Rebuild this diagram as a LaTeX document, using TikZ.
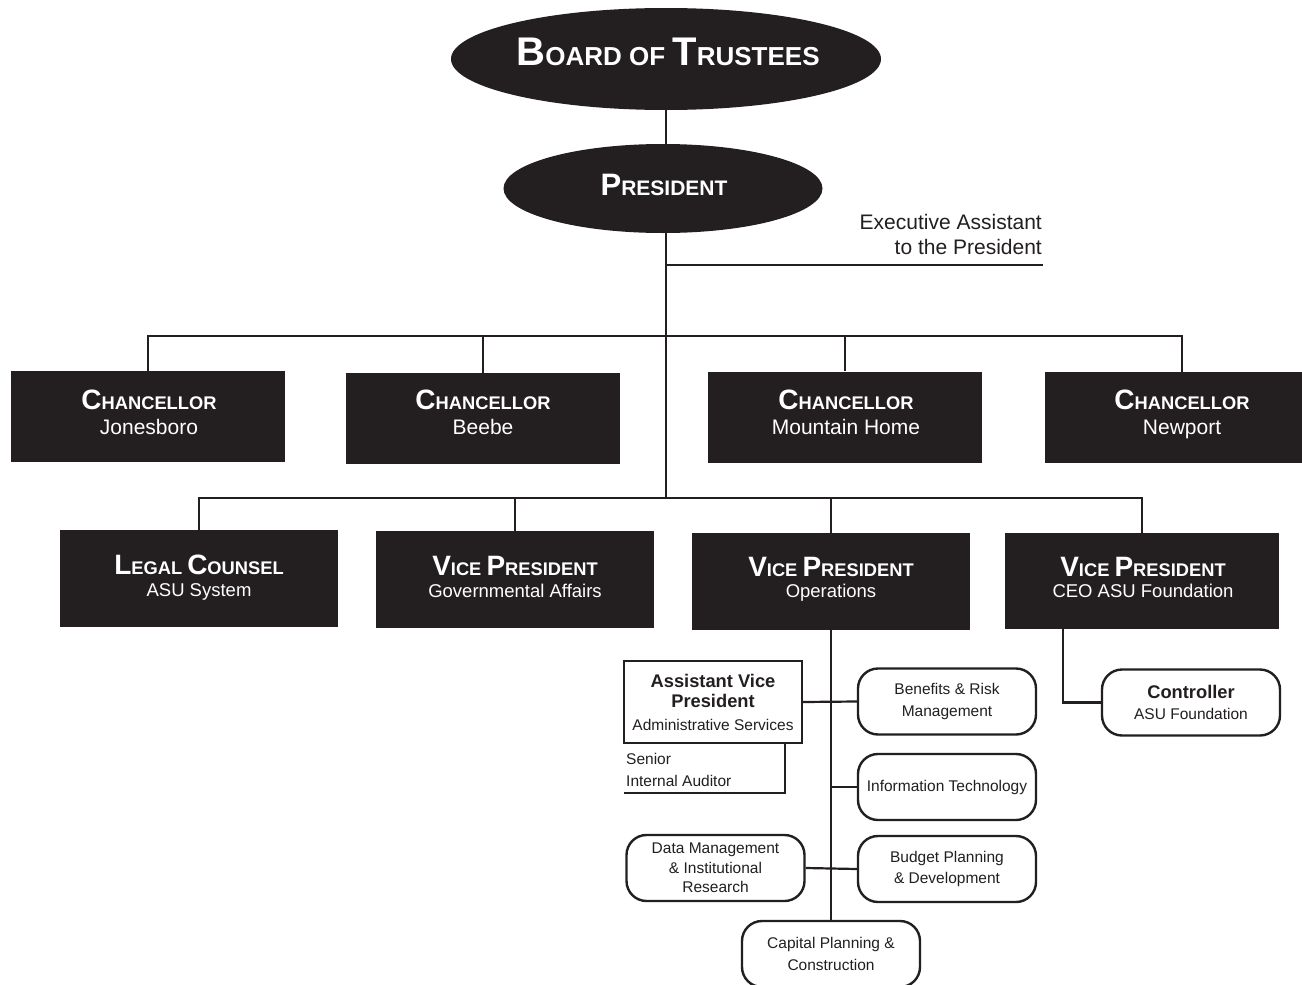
\documentclass[tikz,border=0pt]{standalone}
\usepackage{fontspec}
\setmainfont{Liberation Sans}
\usetikzlibrary{shapes.geometric,backgrounds}
\definecolor{ink}{HTML}{231F20}
\newcommand\capsc[4]{{\fontsize{#1}{#1}\selectfont #3}{\fontsize{#2}{#2}\selectfont #4}}
\newcommand\hd[2]{\capsc{28}{18.3}{#1}{#2}}
\tikzset{
  dbox/.style={fill=ink, inner sep=0pt, minimum width=274pt, minimum height=91pt},
  vbox/.style={fill=ink, inner sep=0pt, minimum width=278pt, minimum height=97pt},
  oval/.style={ellipse, fill=ink, inner sep=0pt},
  wt/.style={text=white, font=\bfseries, anchor=base, inner sep=0pt},
  ws/.style={text=white, font=\fontsize{21}{21}\selectfont, anchor=base, inner sep=0pt},
  vs/.style={text=white, font=\fontsize{18.5}{18.5}\selectfont, anchor=base, inner sep=0pt},
  rbox/.style={draw=ink, line width=2.4pt, rounded corners=20pt, minimum width=178pt, minimum height=66pt, inner sep=2pt, align=center, text=ink, font=\fontsize{15.5}{21.5}\selectfont},
  sqbox/.style={draw=ink, line width=2.4pt, minimum width=178pt, minimum height=82pt, inner sep=2pt, align=center, text=ink, font=\fontsize{15.5}{21}\selectfont},
  plain/.style={text=ink, inner sep=0pt},
  link/.style={draw=ink, line width=2.2pt}
}
\begin{document}
\begin{tikzpicture}[x=1pt,y=-1pt]
\useasboundingbox (0,0) rectangle (1302,985);
% top
\node[oval, minimum width=430pt, minimum height=102pt] (bot) at (666,59) {};
\node[wt] (bott) at (668,65) {\capsc{40}{26}{B}{OARD OF }\capsc{40}{26}{T}{RUSTEES}};
\node[oval, minimum width=319pt, minimum height=89pt] (pres) at (663,188.5) {};
\node[wt] (prest) at (664,195) {\capsc{31}{21}{P}{RESIDENT}};
\coordinate (ea) at (666,265);
\coordinate (eaend) at (1043,265);
\coordinate (chbus) at (666,336);
\coordinate (vpbus) at (666,498);
\node[plain, anchor=base east, font=\fontsize{21}{21}\selectfont] (ea1) at (1042,229) {Executive Assistant};
\node[plain, anchor=base east, font=\fontsize{21}{21}\selectfont] (ea2) at (1042,254) {to the President};
% chancellors
\node[dbox] (c1) at (148,416.5) {};
\node[dbox] (c2) at (483,418.5) {};
\node[dbox] (c3) at (845,417) {};
\node[dbox] (c4) at (1182,417.5) {};
\node[wt] (c1t) at (149,409) {\hd{C}{HANCELLOR}};
\node[ws] (c1s) at (149,434) {Jonesboro};
\node[wt] (c2t) at (483,409) {\hd{C}{HANCELLOR}};
\node[ws] (c2s) at (483,434) {Beebe};
\node[wt] (c3t) at (846,409) {\hd{C}{HANCELLOR}};
\node[ws] (c3s) at (846,434) {Mountain Home};
\node[wt] (c4t) at (1182,409) {\hd{C}{HANCELLOR}};
\node[ws] (c4s) at (1182,434) {Newport};
% vice presidents
\node[vbox] (lc) at (199,578.5) {};
\node[vbox] (vg) at (515,579.5) {};
\node[vbox] (vo) at (831,581.5) {};
\node[vbox, minimum width=274pt, minimum height=96pt] (vc) at (1142,581) {};
\node[wt] (lct) at (199,574) {\hd{L}{EGAL }\hd{C}{OUNSEL}};
\node[vs] (lcs) at (199,596) {ASU System};
\node[wt] (vgt) at (515,575) {\hd{V}{ICE }\hd{P}{RESIDENT}};
\node[vs] (vgs) at (515,597) {Governmental Affairs};
\node[wt] (vot) at (831,576) {\hd{V}{ICE }\hd{P}{RESIDENT}};
\node[vs] (vos) at (831,597) {Operations};
\node[wt] (vct) at (1143,576) {\hd{V}{ICE }\hd{P}{RESIDENT}};
\node[vs] (vcs) at (1143,597) {CEO ASU Foundation};
% operations
\node[sqbox] (avp) at (713,702) {{\bfseries\fontsize{18.3}{20}\selectfont Assistant Vice}\\[-1pt]{\bfseries\fontsize{18.3}{20}\selectfont President}\\[2pt]Administrative Services};
\node[rbox] (ben) at (947,701.5) {Benefits \& Risk\\Management};
\node[rbox] (it) at (947,787) {Information Technology};
\node[rbox] (bud) at (947,869) {Budget Planning\\\& Development};
\node[rbox] (data) at (715.5,868) {Data Management\\[-2pt]\& Institutional\\[-2pt]Research};
\node[rbox] (cap) at (831,954) {Capital Planning \&\\Construction};
\node[rbox] (ctl) at (1191,702.5) {{\bfseries\fontsize{18.3}{20}\selectfont Controller}\\ASU Foundation};
\coordinate (audcorner) at (785,793);
\coordinate (audend) at (624,793);
\coordinate (ctlcorner) at (1063,703);
\node[plain, anchor=base west, font=\fontsize{15.5}{15.5}\selectfont] (aud1) at (626,764) {Senior};
\node[plain, anchor=base west, font=\fontsize{15.5}{15.5}\selectfont] (aud2) at (626,786) {Internal Auditor};
\begin{scope}[on background layer]
\fill[white] (0,0) rectangle (1302,985);
\draw[link] (bot.south) -- (vpbus);
\draw[link] (ea) -- (eaend);
\draw[link] (c1.north) -- (c1.north |- chbus) -- (c4.north |- chbus) -- (c4.north);
\draw[link] (c2.north) -- (c2.north |- chbus);
\draw[link] (c3.north) -- (c3.north |- chbus);
\draw[link] (lc.north) -- (lc.north |- vpbus) -- (vc.north |- vpbus) -- (vc.north);
\draw[link] (vg.north) -- (vg.north |- vpbus);
\draw[link] (vo.north) -- (vo.north |- vpbus);
\draw[link] (vo.south) -- (cap.north);
\draw[link] (avp.east) -- (ben.west);
\draw[link] (it.west -| vo.south) -- (it.west);
\draw[link] (data.east) -- (bud.west);
\draw[link] (avp.south -| audcorner) -- (audcorner) -- (audend);
\draw[link] (vc.south -| ctlcorner) |- (ctl.west);
\end{scope}
\end{tikzpicture}
\end{document}
